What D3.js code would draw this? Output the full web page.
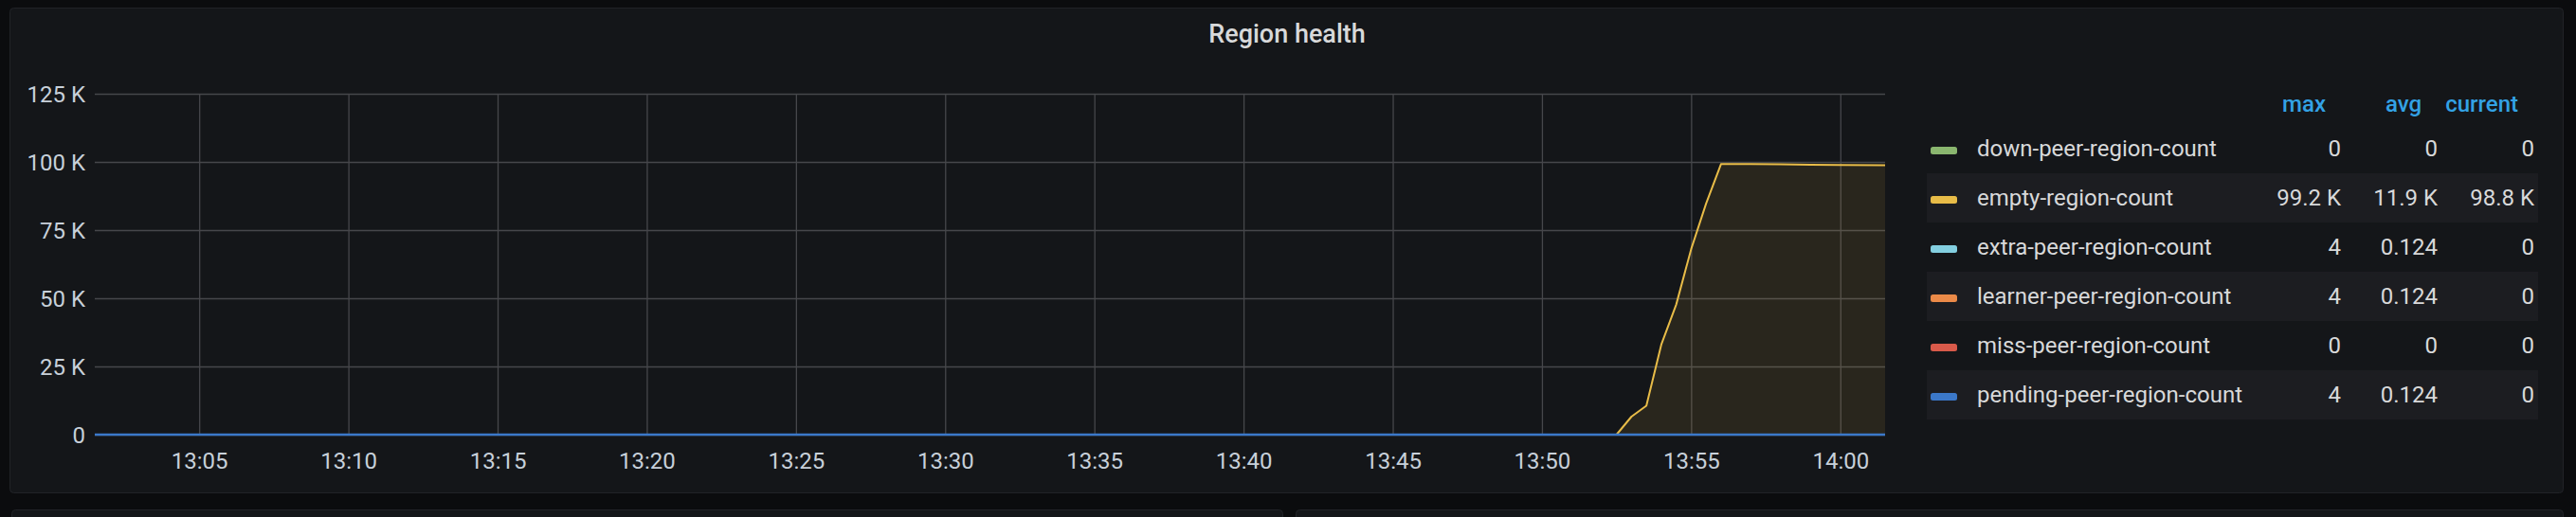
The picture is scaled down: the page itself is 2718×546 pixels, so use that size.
<!DOCTYPE html>
<html>
<head>
<meta charset="utf-8">
<script src="https://cdn.jsdelivr.net/npm/d3@7"></script>
<style>
  html, body { margin: 0; padding: 0; background: #0b0c0e; }
  svg { display: block; font-family: Roboto, "Noto Sans", sans-serif; }
</style>
</head>
<body>
<svg id="chart" width="2718" height="546"></svg>
<script>
// ---------- data ----------
const title = "Region health";
const seriesNames = [
  "down-peer-region-count",
  "empty-region-count",
  "extra-peer-region-count",
  "learner-peer-region-count",
  "miss-peer-region-count",
  "pending-peer-region-count"
];
const seriesColors = ["#8ab66f", "#e8bc48", "#83cfe0", "#eb8a48", "#d95a4a", "#3b78c9"];

const timeDomain = ["13:01:30", "14:01:30"];
const xTickLabels = ["13:05", "13:10", "13:15", "13:20", "13:25", "13:30", "13:35", "13:40", "13:45", "13:50", "13:55", "14:00"];
const yTicks = [0, 25000, 50000, 75000, 100000, 125000];

// points as [time, value]; flat stretches given by their end points
const downPeer = [["13:01:30", 0], ["14:01:30", 0]];
const emptyRegion = [
  ["13:01:30", 0], ["13:52:30", 0], ["13:53:00", 6600], ["13:53:30", 10600],
  ["13:54:00", 33000], ["13:54:30", 47700], ["13:55:00", 68000], ["13:55:30", 84700],
  ["13:56:00", 99200], ["13:57:00", 99200], ["13:58:00", 99100], ["13:59:00", 99000],
  ["14:00:00", 98900], ["14:01:30", 98800]
];
const extraPeer = [["13:01:30", 0], ["13:53:00", 0], ["13:53:30", 4], ["13:54:00", 4], ["13:54:30", 4], ["13:55:00", 3], ["13:55:30", 0], ["14:01:30", 0]];
const learnerPeer = [["13:01:30", 0], ["13:53:00", 0], ["13:53:30", 4], ["13:54:00", 4], ["13:54:30", 4], ["13:55:00", 3], ["13:55:30", 0], ["14:01:30", 0]];
const missPeer = [["13:01:30", 0], ["14:01:30", 0]];
const pendingPeer = [["13:01:30", 0], ["13:53:00", 0], ["13:53:30", 4], ["13:54:00", 4], ["13:54:30", 4], ["13:55:00", 3], ["13:55:30", 0], ["14:01:30", 0]];
const seriesData = [downPeer, emptyRegion, extraPeer, learnerPeer, missPeer, pendingPeer];
const seriesFill = [0, 0.1, 0, 0, 0, 0];

const legendHeaders = ["max", "avg", "current"];
const legendMax = ["0", "99.2 K", "4", "4", "0", "4"];
const legendAvg = ["0", "11.9 K", "0.124", "0.124", "0", "0.124"];
const legendCurrent = ["0", "98.8 K", "0", "0", "0", "0"];

// ---------- layout ----------
const svg = d3.select("#chart");
const parse = d3.timeParse("%H:%M:%S");
const parseTick = d3.timeParse("%H:%M");
const plot = { left: 100, right: 1989, top: 99, bottom: 459 };

// page / panels
svg.append("rect").attr("x", 0).attr("y", 0).attr("width", 2718).attr("height", 546).attr("fill", "#0b0c0e");
svg.append("rect").attr("x", 10.5).attr("y", 8.5).attr("width", 2694).attr("height", 512)
  .attr("rx", 4).attr("fill", "#141619").attr("stroke", "#212327").attr("stroke-width", 1);
svg.append("rect").attr("x", 12.5).attr("y", 538.5).attr("width", 1341).attr("height", 30)
  .attr("rx", 4).attr("fill", "#141619").attr("stroke", "#212327");
svg.append("rect").attr("x", 1367.5).attr("y", 538.5).attr("width", 1337).attr("height", 30)
  .attr("rx", 4).attr("fill", "#141619").attr("stroke", "#212327");

svg.append("text").attr("x", 1358).attr("y", 45).attr("text-anchor", "middle")
  .attr("font-size", 27).attr("font-weight", 500).attr("fill", "#d8d9da").text(title);

// scales
const x = d3.scaleTime().domain(timeDomain.map(parse)).range([plot.left, plot.right]);
const y = d3.scaleLinear().domain([0, 125000]).range([plot.bottom, plot.top]);

const gridColor = "#46474b";
// horizontal grid + y labels
const yAxis = d3.axisLeft(y).tickValues(yTicks)
  .tickFormat(d => d === 0 ? "0" : (d / 1000) + " K")
  .tickSize(-(plot.right - plot.left)).tickPadding(10);
const gy = svg.append("g").attr("transform", `translate(${plot.left},0)`).call(yAxis);
gy.select(".domain").remove();
gy.selectAll(".tick line").attr("stroke", gridColor).attr("stroke-width", 1.3);
gy.selectAll(".tick text").attr("fill", "#c7d0d9").attr("font-size", 24)
  .attr("font-family", "Roboto, sans-serif").attr("dy", "0.35em");

// vertical grid + x labels
const xTickDates = xTickLabels.map(parseTick);
const xAxis = d3.axisBottom(x).tickValues(xTickDates).tickFormat(d3.timeFormat("%H:%M"))
  .tickSize(-(plot.bottom - plot.top)).tickPadding(19);
const gx = svg.append("g").attr("transform", `translate(0,${plot.bottom})`).call(xAxis);
gx.select(".domain").remove();
gx.selectAll(".tick line").attr("stroke", gridColor).attr("stroke-width", 1.3);
gx.selectAll(".tick text").attr("fill", "#c7d0d9").attr("font-size", 24)
  .attr("font-family", "Roboto, sans-serif");

// series
svg.append("clipPath").attr("id", "clip").append("rect")
  .attr("x", plot.left).attr("y", plot.top - 5).attr("width", plot.right - plot.left).attr("height", plot.bottom - plot.top + 10);
const gs = svg.append("g").attr("clip-path", "url(#clip)");
const line = d3.line().x(d => x(parse(d[0]))).y(d => y(d[1]));
const area = d3.area().x(d => x(parse(d[0]))).y0(y(0)).y1(d => y(d[1]));

seriesData.forEach((pts, i) => {
  if (seriesFill[i] > 0) {
    gs.append("path").attr("d", area(pts)).attr("fill", seriesColors[i]).attr("fill-opacity", seriesFill[i]);
  }
});
seriesData.forEach((pts, i) => {
  gs.append("path").attr("d", line(pts)).attr("fill", "none")
    .attr("stroke", seriesColors[i]).attr("stroke-width", i === 5 ? 2.6 : 2)
    .attr("stroke-linejoin", "round");
});

// legend
const lg = svg.append("g");
const colRight = [2470, 2572, 2674];
const headRight = [2454, 2555, 2657];
legendHeaders.forEach((h, j) => {
  lg.append("text").attr("x", headRight[j]).attr("y", 118).attr("text-anchor", "end")
    .attr("font-size", 24).attr("font-weight", 500).attr("fill", "#33a2e5").text(h);
});
const rowTop = 131, rowH = 52;
seriesNames.forEach((name, i) => {
  const top = rowTop + i * rowH;
  if (i % 2 === 1) {
    lg.append("rect").attr("x", 2033).attr("y", top).attr("width", 645).attr("height", rowH)
      .attr("fill", "#1c1d21");
  }
  const cy = top + rowH / 2;
  lg.append("rect").attr("x", 2037).attr("y", cy - 2).attr("width", 28).attr("height", 8)
    .attr("rx", 2.5).attr("fill", seriesColors[i]);
  lg.append("text").attr("x", 2086).attr("y", cy + 8).attr("font-size", 24)
    .attr("fill", "#d8d9da").text(name);
  [legendMax[i], legendAvg[i], legendCurrent[i]].forEach((v, j) => {
    lg.append("text").attr("x", colRight[j]).attr("y", cy + 8).attr("text-anchor", "end")
      .attr("font-size", 24).attr("fill", "#d8d9da").text(v);
  });
});
</script>
</body>
</html>
